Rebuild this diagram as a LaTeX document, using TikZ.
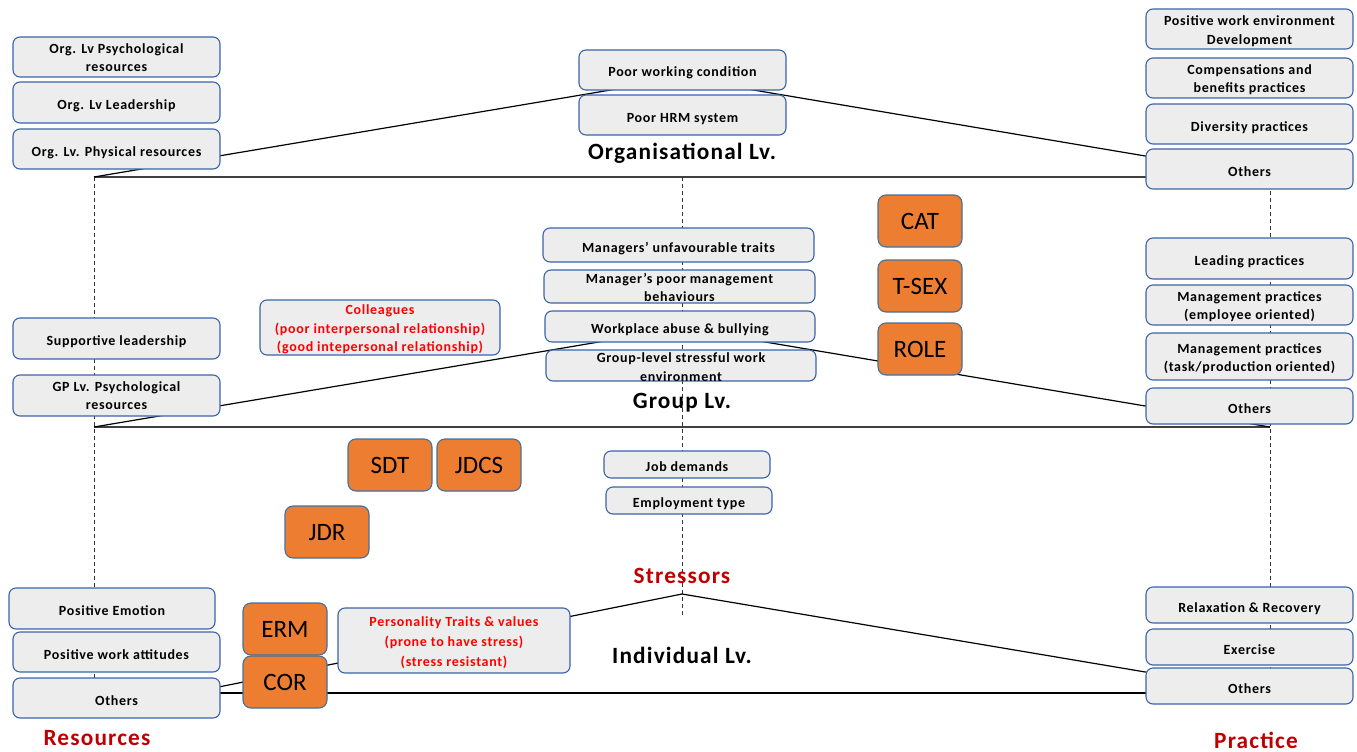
\documentclass[tikz,border=0pt]{standalone}
\usepackage{fontspec}
\setmainfont{Carlito}
\newfontfamily\bx[LetterSpace=5]{Carlito}
\definecolor{boxgray}{HTML}{EDEDED}
\definecolor{boxblue}{HTML}{3A64A8}
\definecolor{orng}{HTML}{ED7D31}
\definecolor{oblue}{HTML}{41719C}
\definecolor{darkred}{HTML}{C00000}
\definecolor{txtred}{HTML}{FF0000}
\begin{document}
\begin{tikzpicture}[x=1pt,y=-1pt,
  gbox/.style={draw=boxblue, fill=boxgray, line width=1.1pt, rounded corners=7pt, align=center, inner sep=0pt,
    font=\bx\bfseries\fontsize{14}{18.5}\selectfont},
  one/.style={execute at begin node={\rule[-3pt]{0pt}{20pt}}},
  mlb/.style={text height=#1pt, text depth=0pt},
  sz/.style 2 args={minimum width=#1pt, minimum height=#2pt},
  rbox/.style={gbox, text=txtred},
  obox/.style={draw=oblue, fill=orng, line width=1.1pt, rounded corners=8pt, minimum width=84pt, minimum height=52pt,
    inner sep=0pt, font=\fontsize{25}{28}\selectfont,
    execute at begin node={\rule[-6pt]{0pt}{29pt}}},
  lvl/.style={font=\bx\bfseries\fontsize{23.3}{26}\selectfont, inner sep=0pt},
  cattl/.style={lvl, text=darkred},
  baseln/.style={draw=black!75, line width=1.8pt},
  slant/.style={draw=black, line width=1.2pt},
  dsh/.style={draw=black!80, line width=0.8pt, dash pattern=on 4pt off 3pt}]
\useasboundingbox (0,0) rectangle (1357,752);

% structural coordinates
\coordinate (oA) at (94,177);  \coordinate (oP) at (682,78);  \coordinate (oB) at (1270,177);
\coordinate (gA) at (94,427);  \coordinate (gP) at (682,328); \coordinate (gB) at (1270,427);
\coordinate (iA) at (94,693);  \coordinate (iL) at (94,712);  \coordinate (iP) at (682,594); \coordinate (iB) at (1270,693);
\coordinate (cT) at (682,177); \coordinate (cE) at (682,617);

% dashed verticals
\draw[dsh] (oA) -- (iA);
\draw[dsh] (cT) -- (cE);
\draw[dsh] (oB) -- (iB);

% level lines
\draw[baseln] (oA) -- (oB);
\draw[baseln] (gA) -- (gB);
\draw[slant] (iA) -- (iB);
\draw[slant] (oA) -- (oP) -- (oB);
\draw[slant] (gA) -- (gP) -- (gB);
\draw[slant] (iL) -- (iP) -- (iB);

% left column (resources)
\node[gbox, mlb=29, sz={207}{40}] (l1) at (116.5,57) {Org. Lv Psychological\\resources};
\node[gbox, one, sz={207}{41}] (l2) at (116.5,102.5) {Org. Lv Leadership};
\node[gbox, one, sz={207}{40}] (l3) at (116.5,149) {Org. Lv. Physical resources};
\node[gbox, one, sz={207}{41}] (l4) at (116.5,338.5) {Supportive leadership};
\node[gbox, mlb=28, sz={207}{41}] (l5) at (116.5,395.5) {GP Lv. Psychological\\resources};
\node[gbox, one, sz={206}{41}] (l6) at (112,608.5) {Positive Emotion};
\node[gbox, one, sz={207}{40}] (l7) at (116.5,652) {Positive work attitudes};
\node[gbox, one, sz={207}{40}] (l8) at (116.5,698) {Others};
\node[cattl] (res) at (97,738) {Resources};

% centre (stressors)
\node[gbox, one, sz={207}{40}] (c1) at (682.5,70) {Poor working condition};
\node[gbox, one, sz={207}{40}] (c2) at (682.5,115) {Poor HRM system};
\node[lvl] (olv) at (682,153) {Organisational Lv.};

\node[gbox, one, sz={271}{34}] (g1) at (678.5,245) {Managers’ unfavourable traits};
\node[gbox, mlb=30, sz={271}{33}] (g2) at (679.5,286.5) {Manager’s poor management\\behaviours};
\node[gbox, one, sz={270}{31}] (g3) at (680,326.5) {Workplace abuse \& bullying};
\node[gbox, mlb=31, sz={270}{31}] (g4) at (681,365.5) {Group-level stressful work\\environment};
\node[lvl] (glv) at (682,403) {Group Lv.};

\node[rbox, mlb=48, sz={240}{55}] (col) at (380,327.5) {Colleagues\\(poor interpersonal relationship)\\(good intepersonal relationship)};

\node[obox] (cat) at (920,221) {CAT};
\node[obox] (tsex) at (920,286) {T-SEX};
\node[obox] (role) at (920,349) {ROLE};

\node[obox] (sdt) at (390,465) {SDT};
\node[obox] (jdcs) at (479,465) {JDCS};
\node[obox] (jdr) at (327,532) {JDR};

\node[gbox, one, sz={166}{27}] (jd) at (687,464.5) {Job demands};
\node[gbox, one, sz={166}{27}] (et) at (689,500.5) {Employment type};
\node[cattl] (str) at (682,576) {Stressors};

\node[obox] (erm) at (285,629) {ERM};
\node[obox] (cor) at (285,682) {COR};
\node[rbox, mlb=52, sz={232}{65}, font=\bx\bfseries\fontsize{14}{20}\selectfont] (pers) at (454,640.5) {Personality Traits \& values\\(prone to have stress)\\(stress resistant)};
\node[lvl] (ilv) at (682,655) {Individual Lv.};

% right column (practice)
\node[gbox, mlb=31, sz={207}{40}] (r1) at (1249.5,29) {Positive work environment\\Development};
\node[gbox, mlb=29, sz={207}{40}] (r2) at (1249.5,78) {Compensations and\\benefits practices};
\node[gbox, one, sz={207}{40}] (r3) at (1249.5,124) {Diversity practices};
\node[gbox, one, sz={207}{40}] (r4) at (1249.5,169) {Others};
\node[gbox, one, sz={207}{41}] (r5) at (1249.5,258.5) {Leading practices};
\node[gbox, mlb=29, sz={207}{40}] (r6) at (1249.5,305) {Management practices\\(employee oriented)};
\node[gbox, mlb=30, sz={207}{47}] (r7) at (1249.5,356.5) {Management practices\\(task/production oriented)};
\node[gbox, one, sz={207}{36}] (r8) at (1249.5,406) {Others};
\node[gbox, one, sz={207}{36}] (r9) at (1249.5,605) {Relaxation \& Recovery};
\node[gbox, one, sz={207}{36}] (r10) at (1249.5,647) {Exercise};
\node[gbox, one, sz={207}{36}] (r11) at (1249.5,686) {Others};
\node[cattl] (prac) at (1256,740) {Practice};
\end{tikzpicture}
\end{document}
